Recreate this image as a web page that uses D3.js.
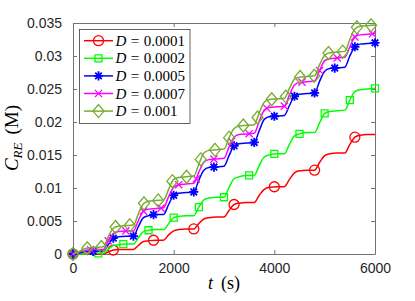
<!DOCTYPE html>
<html>
<head>
<meta charset="utf-8">
<script src="https://cdn.jsdelivr.net/npm/d3@7"></script>
<style>
body { margin: 0; background: #fff; }
</style>
</head>
<body>
<div id="chart"></div>
<script>
// time samples (s), 5 per 600 s pulse period
var times = [0,100,200,300,450, 600,700,800,900,1050, 1200,1300,1400,1500,1650,
    1800,1900,2000,2100,2250, 2400,2500,2600,2700,2850, 3000,3100,3200,3300,3450,
    3600,3700,3800,3900,4050, 4200,4300,4400,4500,4650, 4800,4900,5000,5100,5250,
    5400,5500,5600,5700,5850, 6000];

// C_RE (M)
var c_d0001 = [0,0,0,0,0, 0,0.0003,0.0006,0.0007,0.0007, 0.0007,0.0013,0.0019,0.0020,0.0021,
    0.0021,0.0029,0.0035,0.0037,0.0038, 0.0038,0.0046,0.0053,0.0055,0.0056, 0.0056,0.0066,0.0075,0.0077,0.0078,
    0.0078,0.0089,0.0098,0.0101,0.0102, 0.0102,0.0113,0.0123,0.0126,0.0127, 0.0127,0.0139,0.0149,0.0152,0.0153,
    0.0153,0.0166,0.0177,0.0180,0.0181, 0.0181];
var c_d0002 = [0,0,0,0.0001,0.0001, 0.0001,0.0007,0.0013,0.0014,0.0015, 0.0015,0.0025,0.0034,0.0036,0.0037,
    0.0037,0.0046,0.0055,0.0057,0.0058, 0.0058,0.0071,0.0082,0.0085,0.0086, 0.0086,0.0101,0.0114,0.0117,0.0119,
    0.0119,0.0134,0.0147,0.0150,0.0152, 0.0152,0.0166,0.0179,0.0182,0.0184, 0.0184,0.0199,0.0213,0.0216,0.0217,
    0.0218,0.0233,0.0246,0.0249,0.0250, 0.0251];
var c_d0005 = [0,0.0001,0.0003,0.0004,0.0004, 0.0004,0.0014,0.0024,0.0026,0.0027, 0.0027,0.0042,0.0055,0.0058,0.0060,
    0.0060,0.0075,0.0089,0.0092,0.0093, 0.0094,0.0112,0.0127,0.0131,0.0132, 0.0133,0.0149,0.0164,0.0167,0.0168,
    0.0169,0.0187,0.0204,0.0208,0.0209, 0.0210,0.0225,0.0239,0.0242,0.0243, 0.0244,0.0262,0.0277,0.0281,0.0282,
    0.0283,0.0300,0.0314,0.0318,0.0319, 0.0320];
var c_d0007 = [0,0.0002,0.0005,0.0006,0.0007, 0.0007,0.0020,0.0031,0.0034,0.0035, 0.0035,0.0051,0.0065,0.0068,0.0069,
    0.0070,0.0087,0.0101,0.0105,0.0106, 0.0107,0.0124,0.0139,0.0143,0.0144, 0.0145,0.0162,0.0177,0.0181,0.0182,
    0.0183,0.0201,0.0218,0.0222,0.0223, 0.0224,0.0241,0.0256,0.0260,0.0261, 0.0262,0.0278,0.0293,0.0296,0.0297,
    0.0298,0.0314,0.0329,0.0332,0.0333, 0.0334];
var c_d001 = [0,0.0003,0.0007,0.0009,0.0010, 0.0011,0.0026,0.0039,0.0042,0.0043, 0.0044,0.0061,0.0076,0.0080,0.0081,
    0.0082,0.0098,0.0113,0.0116,0.0117, 0.0118,0.0136,0.0153,0.0157,0.0158, 0.0159,0.0176,0.0190,0.0194,0.0195,
    0.0196,0.0214,0.0230,0.0234,0.0235, 0.0236,0.0251,0.0265,0.0268,0.0269, 0.0270,0.0287,0.0301,0.0305,0.0306,
    0.0307,0.0325,0.0341,0.0345,0.0346, 0.0347];

var labels = ["0.0001", "0.0002", "0.0005", "0.0007", "0.001"];
var colors = ["#ff0000", "#00ff00", "#0000ff", "#ff00ff", "#77ac30"];
var markers = ["circle", "square", "star", "x", "diamond"];
var markerStep = [800, 500, 400, 350, 282];   // s between markers
var xTicks = [0, 2000, 4000, 6000];
var yTicks = [0, 0.005, 0.01, 0.015, 0.02, 0.025, 0.03, 0.035];

var width = 415, height = 301;
var plotLeft = 73, plotRight = 375, plotTop = 23, plotBottom = 254;

var series = [c_d0001, c_d0002, c_d0005, c_d0007, c_d001].map(function(vals, i) {
    return { label: labels[i], color: colors[i], marker: markers[i], step: markerStep[i],
        points: times.map(function(t, j) { return [t, vals[j]]; }) };
});

var svg = d3.select("#chart").append("svg")
    .attr("width", width)
    .attr("height", height)
    .style("font-family", "'Liberation Sans', Arial, sans-serif");

var x = d3.scaleLinear().domain([0, 6000]).range([plotLeft, plotRight]);
var y = d3.scaleLinear().domain([0, 0.035]).range([plotBottom, plotTop]);

var axisColor = "#737373";

// axes, ticks pointing inward
svg.append("g")
    .attr("transform", "translate(0," + plotBottom + ")")
    .call(d3.axisBottom(x).tickValues(xTicks).tickSize(-4).tickSizeOuter(0).tickPadding(9)
        .tickFormat(d3.format("d")));
svg.append("g")
    .attr("transform", "translate(" + plotLeft + ",0)")
    .call(d3.axisLeft(y).tickValues(yTicks).tickSize(-4).tickSizeOuter(0).tickPadding(11)
        .tickFormat(function(d) { return d === 0 ? "0" : String(+d.toFixed(3)); }));
svg.append("g")
    .attr("transform", "translate(0," + plotTop + ")")
    .call(d3.axisTop(x).tickValues(xTicks).tickSize(-4).tickSizeOuter(0).tickFormat(""));
svg.append("g")
    .attr("transform", "translate(" + plotRight + ",0)")
    .call(d3.axisRight(y).tickValues(yTicks).tickSize(-4).tickSizeOuter(0).tickFormat(""));

svg.selectAll(".domain, .tick line").attr("stroke", axisColor);
svg.selectAll(".tick text").attr("fill", "#262626").style("font-size", "14px")
    .style("font-family", "'Liberation Sans', Arial, sans-serif");

var line = d3.line()
    .x(function(d) { return x(d[0]); })
    .y(function(d) { return y(d[1]); })
    .curve(d3.curveMonotoneX);

var markerPaths = {
    square: "M-3.5,-3.5H3.5V3.5H-3.5Z",
    star: "M-4.6,0H4.6M0,-4.6V4.6M-3.3,-3.3L3.3,3.3M-3.3,3.3L3.3,-3.3",
    x: "M-3.6,-3.6L3.6,3.6M-3.6,3.6L3.6,-3.6",
    diamond: "M0,-6.5L5.5,0L0,6.5L-5.5,0Z"
};

function drawMarker(g, type, cx, cy, color) {
    if (type === "circle") {
        g.append("circle").attr("cx", cx).attr("cy", cy).attr("r", 5)
            .attr("fill", "none").attr("stroke", color).attr("stroke-width", 1.3);
    } else {
        g.append("path").attr("d", markerPaths[type])
            .attr("transform", "translate(" + cx + "," + cy + ")")
            .attr("fill", "none").attr("stroke", color)
            .attr("stroke-width", type === "star" ? 1.8 : 1.3);
    }
}

// point of the drawn curve at a given x
function pointAtX(node, px) {
    var lo = 0, hi = node.getTotalLength();
    for (var k = 0; k < 40; k++) {
        var mid = (lo + hi) / 2;
        if (node.getPointAtLength(mid).x < px) lo = mid; else hi = mid;
    }
    return node.getPointAtLength((lo + hi) / 2);
}

series.forEach(function(s) {
    var g = svg.append("g");
    var p = g.append("path")
        .datum(s.points)
        .attr("d", line)
        .attr("fill", "none")
        .attr("stroke", s.color)
        .attr("stroke-width", 1.5);
    d3.range(0, 6000 + 1, s.step).forEach(function(t) {
        var pt = t === 0 ? { x: x(0), y: y(s.points[0][1]) } : pointAtX(p.node(), x(t));
        drawMarker(g, s.marker, pt.x, pt.y, s.color);
    });
});

// legend
var legend = svg.append("g");
legend.append("rect")
    .attr("x", 79.5).attr("y", 29.5)
    .attr("width", 110.5).attr("height", 94)
    .attr("fill", "#fff").attr("stroke", "#3c3c3c").attr("stroke-width", 0.8);

series.forEach(function(s, i) {
    var ly = 40.7 + i * 17.6;
    var g = legend.append("g");
    g.append("line").attr("x1", 84).attr("x2", 113).attr("y1", ly).attr("y2", ly)
        .attr("stroke", s.color).attr("stroke-width", 1.5);
    drawMarker(g, s.marker, 98.5, ly, s.color);
    var t = g.append("text").attr("x", 115.5).attr("y", ly + 5)
        .style("font-family", "'Liberation Serif', 'Times New Roman', serif")
        .style("font-size", "15px").attr("fill", "#000");
    t.append("tspan").style("font-style", "italic").text("D");
    t.append("tspan").attr("dx", 4.5).text("=");
    t.append("tspan").attr("dx", 4.5).text(s.label);
});

// axis labels
var xl = svg.append("text")
    .attr("x", 224).attr("y", 289)
    .attr("text-anchor", "middle")
    .style("font-family", "'Liberation Serif', 'Times New Roman', serif")
    .style("font-size", "18px").attr("fill", "#000");
xl.append("tspan").style("font-style", "italic").text("t");
xl.append("tspan").attr("dx", 8).text("(s)");

var yl = svg.append("text")
    .attr("transform", "translate(18,138) rotate(-90)")
    .attr("text-anchor", "middle")
    .style("font-family", "'Liberation Serif', 'Times New Roman', serif")
    .style("font-size", "19px").attr("fill", "#000");
yl.append("tspan").style("font-style", "italic").text("C");
yl.append("tspan").style("font-style", "italic").style("font-size", "13px").attr("dy", 4).text("RE");
yl.append("tspan").attr("dy", -4).attr("dx", 8).text("(M)");
</script>
</body>
</html>
